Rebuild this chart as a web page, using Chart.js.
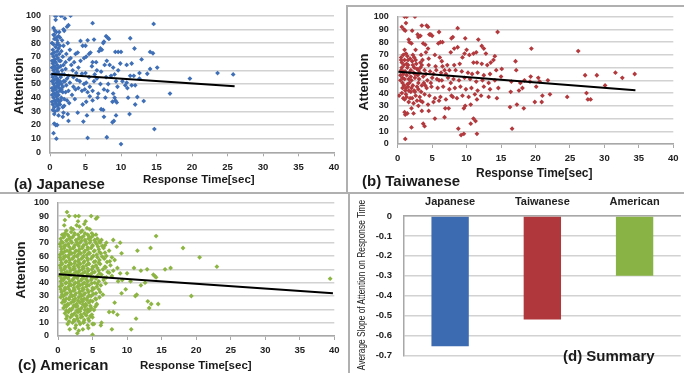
<!DOCTYPE html>
<html><head><meta charset="utf-8">
<script src="https://cdn.jsdelivr.net/npm/chart.js@4/dist/chart.umd.min.js"></script>
<style>
html,body{margin:0;padding:0;background:#fff;}
#wrap{position:relative;width:684px;height:373px;overflow:hidden;font-family:"Liberation Sans",Arial,sans-serif;color:#1a1a1a;}
canvas{position:absolute;left:0;top:0;pointer-events:none;}
.t{position:absolute;white-space:nowrap;line-height:1;font-weight:bold;}
.rot{transform:translate(-50%,-50%) rotate(-90deg);}
.lc{transform:translateY(-50%);}
.ln{position:absolute;background:#b0b0b0;}
</style></head><body><div id="wrap">
<div class="ln" style="left:347px;top:5px;width:337px;height:2px"></div>
<div class="ln" style="left:346px;top:5px;width:2px;height:188px"></div>
<div class="ln" style="left:0;top:192px;width:684px;height:2px"></div>
<div class="ln" style="left:348px;top:192px;width:2px;height:181px"></div>
<canvas id="ca" width="684" height="373"></canvas>
<canvas id="cb" width="684" height="373"></canvas>
<canvas id="cc" width="684" height="373"></canvas>
<canvas id="cd" width="684" height="373"></canvas>
<div class="t rot" style="left:18px;top:86px;font-size:13px">Attention</div>
<div class="t rot" style="left:363px;top:82px;font-size:13px">Attention</div>
<div class="t rot" style="left:20px;top:270px;font-size:13px">Attention</div>
<div class="t lc" style="left:14px;top:183px;font-size:15px">(a) Japanese</div>
<div class="t lc" style="left:143px;top:180px;font-size:11.5px">Response Time[sec]</div>
<div class="t lc" style="left:362px;top:180px;font-size:15px">(b) Taiwanese</div>
<div class="t lc" style="left:476px;top:173px;font-size:12px">Response Time[sec]</div>
<div class="t lc" style="left:18px;top:364px;font-size:15px">(c) American</div>
<div class="t lc" style="left:140px;top:366px;font-size:11.5px">Response Time[sec]</div>
<div id="dTitle" class="t rot" style="left:362px;top:285px;font-size:10px;font-weight:normal">Average Slope of Attention on Response Time</div>
<div class="t lc" style="left:563px;top:355px;font-size:15px">(d) Summary</div>
</div>
<script>
// ---------- data ----------
const japanesePoints = [
[0.7,100],[0.9,100],[1.5,100],[1.7,100],[2.9,100],[0.8,97],[2.1,98],[6.0,94.5],[14.6,94],[2.6,93],[2.4,92],[0.5,91],[0.7,89],[0.9,88],[2.0,89],[1.9,90],
[0.6,86],[1.2,85],[1.4,84],[1.0,82],[7.9,85],[8.1,84],[8.3,83],[11.3,83.5],[6.2,82.5],[4.3,81.5],[5.3,82],[7.6,81],[7.5,80],[0.3,80],[0.5,79],[2.5,80],[1.9,78],[5.0,78],[4.6,78],
[11.9,76],[7.1,76],[7.3,75],[6.9,74],[9.2,73.5],[9.6,73.5],[10.0,73.5],[14.1,73.5],[14.5,72.5],[3.9,73],[5.7,73],[5.5,72],[2.7,68],[2.9,69],[5.1,70],[4.8,69],[12.9,68],[8.0,67],
[6.0,66],[6.5,66],[7.7,64],[8.4,64],[9.9,65],[10.8,64],[11.5,65],[4.3,67],[3.4,66],[2.2,66],[14.1,61],[15.1,62],[13.7,57.5],[11.3,56],[11.8,56],[12.6,58],[8.9,62],[9.6,60],
[5.9,63],[6.6,60],[4.5,57.5],[5.0,58],[3.7,58],[3.2,60],[2.6,56],[7.2,59],[7.9,55],[8.6,56],[9.1,57],[9.3,52],[10.2,52],[10.8,51],[12.6,54],[11.5,49],[12.0,49],[10.6,49],
[6.6,54],[6.2,52],[5.5,55],[5.1,51],[4.8,50],[3.8,53],[2.8,51],[2.3,49],[1.8,48],[4.0,47],[4.5,45],[4.9,46],[5.3,44],[6.0,45],[6.8,43],[7.6,46],[8.1,45],[8.9,43],[8.2,50],
[9.5,48],[10.9,47],[16.9,43],[19.7,54],[23.6,58],[25.8,57],[12.3,40.5],[12.0,35],[13.2,37.5],[11.0,40],[9.1,40],[9.2,38],[9.4,36.5],[8.8,37],[7.8,40],[6.7,40],[6.0,38],
[5.6,41],[5.1,37],[4.6,35],[3.5,39],[3.1,42],[2.7,36],[2.4,38],[2.0,34],[1.9,29],[2.5,28],[3.9,29],[5.2,27],[6.0,31],[7.2,31.5],[7.5,31],[7.6,26],[9.3,27],[9.0,23],[8.8,22],
[11.2,28],[4.7,22.5],[2.6,23],[1.8,26],[1.2,27],[1.0,20],[0.6,21],[0.8,20],[14.7,17],[0.5,14],[0.9,10],[5.3,10.5],[8.0,11],[10.0,6],
[0.4,75],[0.6,73],[0.8,77],[1.0,74],[1.2,76],[1.4,78],[0.5,70],[0.7,68],[0.9,71],[1.1,69],[1.3,72],[1.6,74],[0.4,65],[0.6,63],[0.8,66],[1.0,64],[1.2,62],[1.5,67],
[0.5,60],[0.7,58],[0.9,61],[1.1,59],[1.3,57],[1.7,60],[0.4,55],[0.6,53],[0.8,56],[1.0,54],[1.2,52],[1.5,55],[0.5,50],[0.7,48],[0.9,51],[1.1,49],[1.3,47],[1.6,50],
[0.4,45],[0.6,43],[0.8,46],[1.0,44],[1.2,42],[1.4,45],[0.5,40],[0.7,38],[0.9,41],[1.1,39],[1.3,37],[1.6,40],[0.4,35],[0.6,33],[0.8,36],[1.0,34],[1.2,32],[1.4,35],
[0.7,30],[1.1,31],[0.3,62],[0.3,52],[0.3,42],[1.8,70],[1.9,64],[2.0,57],[1.8,44],[2.1,52],[2.2,61],[2.3,72],[1.7,82],[1.3,88],[0.6,83],[1.0,79],[2.4,54],[2.6,45],[3.0,64],[3.3,48],
[0.3,72],[0.5,67],[0.7,62],[0.9,57],[1.1,53],[1.3,50],[0.6,46],[0.8,42],[1.0,38],[1.2,35],[0.4,31],[0.6,28],[1.5,63],[1.7,57],[1.6,46],[1.5,38],[1.9,52],[2.0,39],[0.5,86],[0.9,84],
[1.1,80],[1.3,67],[1.4,52],[1.0,48],[0.3,47],[0.3,57],[0.3,67],[0.3,37],[1.8,33],[2.2,44],[3.6,46],[4.2,52],[5.6,48],[6.3,57],[7.1,50],[3.3,55],[4.0,62],[2.8,75],[3.6,72]
];
const japaneseTrend = [[0.2,57.3],[26.0,48.3]];

const taiwanesePoints = [
[1.0,100],[1.3,100],[2.5,100],[1.2,95],[0.6,92],[0.9,90],[1.1,89],[2.1,89],[3.5,93],[4.2,93],[4.4,92],[8.7,91],[14.5,88],[2.9,86],[3.0,84],[3.3,85],[4.6,86],[4.8,86],[5.0,85],[6.0,88],
[1.6,82],[1.7,80],[2.0,79],[3.7,79],[4.0,78],[4.4,75],[5.9,79],[6.2,80],[6.5,80],[7.8,83],[8.0,84],[9.8,83],[11.7,82],[2.6,74],[1.0,74],[0.8,70],[1.2,71],[3.4,70],[4.1,72],
[5.4,70],[6.1,68],[6.4,65],[7.7,72],[8.2,75],[8.7,76],[9.4,68],[9.7,71],[10.0,74],[10.4,70],[11.0,71],[11.4,72],[12.2,77],[12.5,75],[12.8,71],[19.4,75],[26.2,73],[13.9,66],[14.1,69],
[17.1,65],[11.0,64],[11.5,64],[12.2,63],[13.0,62],[13.5,64],[9.0,63],[8.2,62],[7.2,62],[6.5,61],[5.5,61],[4.5,62],[3.3,64],[2.7,63],[2.1,65],[1.8,67],[1.0,66],[0.6,64],[0.9,62],
[1.4,60],[2.4,60],[3.0,58],[3.9,58],[4.7,57],[5.6,58],[6.3,56],[7.0,55],[7.5,58],[8.4,58],[9.3,57],[10.2,56],[10.8,55],[11.6,56],[12.5,54],[13.4,55],[14.3,58],[15.1,59],[17.2,58],
[19.3,53],[20.4,52],[20.6,49],[21.8,50],[27.2,54],[28.9,54],[31.6,56],[32.6,52],[34.4,55],[0.8,55],[1.3,54],[1.9,53],[2.5,52],[3.1,51],[3.7,53],[4.3,50],[5.0,52],[5.7,51],[6.4,50],
[7.3,52],[8.1,51],[8.9,50],[9.7,52],[10.5,51],[11.4,49],[12.3,50],[13.2,48],[14.1,50],[15.0,53],[16.5,49],[17.8,48],[18.4,50],[19.2,49],[0.7,48],[1.4,47],[2.2,46],[2.8,45],[3.5,46],
[4.2,44],[4.9,45],[5.8,44],[6.6,45],[7.5,43],[8.3,44],[9.1,45],[9.9,43],[10.7,44],[11.6,42],[12.5,45],[13.4,43],[14.6,44],[16.4,41],[17.6,42],[18.1,44],[20.1,45],[22.1,39],[21.0,38],
[24.6,37],[27.4,40],[27.6,35],[28.0,35],[30.1,46],[0.6,40],[1.2,39],[1.9,41],[2.6,38],[3.2,37],[3.9,39],[4.6,38],[5.4,36],[6.2,37],[7.0,35],[7.8,38],[8.6,36],[9.4,38],[10.3,37],
[11.2,39],[12.1,38],[13.2,37],[14.4,36],[0.2,38],[1.0,35],[1.6,33],[2.3,32],[3.0,30],[3.6,33],[4.4,31],[5.2,33],[6.0,34],[6.9,28],[7.4,28],[8.0,37],[9.6,28],[9.8,30],[10.6,31],
[11.5,35],[16.3,29],[17.3,31],[18.3,28],[19.9,33],[20.9,33],[1.0,25],[1.1,23],[1.4,24],[2.0,28],[2.3,24],[3.5,26],[4.5,26],[5.4,20],[6.8,21],[11.0,20],[11.3,18],[10.6,16],
[2.0,13],[3.7,16],[3.9,14],[8.8,12],[9.2,7],[9.6,8],[11.5,8],[16.6,12],[1.1,4],
[0.5,58],[0.7,52],[1.1,57],[1.5,62],[1.7,56],[2.0,50],[2.3,56],[2.6,66],[2.9,54],[3.3,60],[1.2,44],[1.6,42],[2.4,42],[0.9,46],[3.0,48],[0.5,68],[1.4,69],[2.2,70],[0.4,50],[1.8,36],
[0.6,60],[0.9,57],[1.3,63],[1.6,51],[1.9,58],[2.2,62],[2.5,55],[2.8,59],[3.2,56],[3.5,62],[3.8,48],[4.1,55],[0.7,44],[1.1,42],[1.5,45],[2.0,44],[2.5,41],[3.0,43],[3.4,41],[4.0,46],
[0.8,36],[1.3,37],[2.1,36],[2.8,34],[3.3,34],[4.8,48],[5.2,55],[6.0,50],[6.8,58],[7.7,48],[0.5,66],[1.5,66],[2.4,68],[3.6,66],[4.5,67],[1.0,51],[1.7,48],[0.4,54]
];
const taiwaneseTrend = [[0.1,56.8],[34.5,42.2]];

const americanPoints = [
[1.3,93],[1.6,90],[2.5,90],[3.0,90],[4.8,90],[5.5,88],[5.7,89],[1.0,87],[0.9,83],[14.2,75],[13.4,66],[18.1,66],[20.5,59],[23.0,52],[16.3,51],[15.5,50],[39.4,43],[19.3,30],
[14.5,24],[13.5,24],[13.0,26],[13.2,21],[11.3,13],[10.6,5],[7.8,5],[5.0,1],[2.8,2],[11.5,64],[9.0,70],[8.0,72],[9.2,62],[8.5,67],[7.0,70],[12.0,49],[12.9,50],[13.8,46],
[14.0,45],[14.2,44],[11.0,51],[10.0,47],[10.5,41],[11.2,30],[11.4,31],[12.6,40],[12.0,38],[9.3,42],[9.8,35],[9.2,32],[8.7,41],[8.2,25],[7.4,18],[8.0,18],[8.6,16],[6.3,10],[6.2,8],[5.2,9],
[2.2,80],[3.1,82],[3.8,84],[4.2,81],[2.7,83],[1.9,81],[3.5,79],[4.6,80],[1.2,79],[4.0,86],[2.9,86],
[0.6,76],[1.0,77],[1.4,76],[1.9,78],[2.4,77],[2.9,76],[3.3,78],[3.9,77],[4.3,76],[4.9,77],[5.5,76],
[0.4,73],[0.8,74],[1.3,72],[1.7,73],[2.1,74],[2.6,72],[3.0,73],[3.5,74],[3.9,72],[4.4,73],[4.8,74],[5.3,72],[5.7,73],[6.3,72],
[0.3,69],[0.7,70],[1.1,68],[1.5,69],[2.0,70],[2.4,68],[2.8,69],[3.2,70],[3.7,68],[4.1,69],[4.6,70],[5.0,68],[5.6,69],[6.1,70],[6.8,68],
[0.5,65],[0.9,66],[1.3,64],[1.8,65],[2.2,66],[2.6,64],[3.1,65],[3.5,66],[3.9,64],[4.3,65],[4.8,66],[5.3,64],[5.9,65],[6.6,66],[7.4,64],
[0.3,61],[0.7,62],[1.1,60],[1.6,61],[2.0,62],[2.4,60],[2.9,61],[3.3,62],[3.7,60],[4.2,61],[4.6,62],[5.1,60],[5.6,61],[6.2,62],[7.0,60],
[0.4,57],[0.8,58],[1.2,56],[1.7,57],[2.1,58],[2.5,56],[3.0,57],[3.4,58],[3.8,56],[4.3,57],[4.8,58],[5.4,56],[6.0,57],[6.7,58],[7.5,56],[8.2,57],
[0.3,53],[0.6,54],[1.0,52],[1.5,53],[1.9,54],[2.3,52],[2.8,53],[3.2,54],[3.6,52],[4.1,53],[4.5,54],[5.0,52],[5.5,53],[6.1,54],[6.8,52],[7.6,53],
[0.5,49],[0.9,50],[1.3,48],[1.8,49],[2.2,50],[2.6,48],[3.1,49],[3.5,50],[3.9,48],[4.4,49],[4.9,50],[5.3,48],[5.9,49],[6.5,50],[7.2,48],[8.0,49],
[0.3,45],[0.7,46],[1.1,44],[1.6,45],[2.0,46],[2.4,44],[2.9,45],[3.3,46],[3.7,44],[4.2,45],[4.7,46],[5.1,44],[5.7,45],[6.3,46],[7.0,44],[7.8,45],
[0.4,41],[0.8,42],[1.2,40],[1.7,41],[2.1,42],[2.5,40],[3.0,41],[3.4,42],[3.8,40],[4.3,41],[4.8,42],[5.3,40],[5.9,41],[6.6,42],
[0.3,37],[0.6,38],[1.0,36],[1.5,37],[1.9,38],[2.3,36],[2.8,37],[3.2,38],[3.6,36],[4.1,37],[4.5,38],[5.0,36],[5.6,37],[6.2,38],
[0.5,33],[0.9,34],[1.3,32],[1.8,33],[2.2,34],[2.6,32],[3.1,33],[3.5,34],[3.9,32],[4.4,33],[4.9,34],[5.5,32],[6.1,33],
[0.4,29],[0.8,30],[1.2,28],[1.7,29],[2.1,30],[2.5,28],[3.0,29],[3.4,30],[3.8,28],[4.3,29],[4.8,30],[5.4,28],[6.0,29],
[0.6,25],[1.0,26],[1.4,24],[1.9,25],[2.3,26],[2.7,24],[3.2,25],[3.6,26],[4.0,24],[4.5,25],[5.0,26],[5.6,24],
[0.8,21],[1.2,22],[1.7,20],[2.1,21],[2.6,22],[3.0,20],[3.4,21],[3.9,22],[4.3,20],[4.8,21],[5.4,22],
[1.0,17],[1.5,18],[2.0,16],[2.4,17],[2.9,18],[3.3,16],[3.8,17],[4.3,18],[4.9,16],
[1.2,13],[1.8,14],[2.3,12],[2.8,13],[3.3,14],[3.8,12],[4.4,13],[5.0,14],
[1.4,9],[2.1,10],[2.6,8],[3.2,9],[3.7,10],[4.3,8],[5.0,9],
[1.7,5],[2.5,6],[3.0,4],[3.6,5],[4.4,6],
[0.9,75],[1.6,74.5],[2.3,75.5],[3.1,74],[3.7,75],[4.5,74.5],[5.1,75.5],
[0.5,71],[1.2,71.5],[1.9,71],[2.7,70.5],[3.4,71.5],[4.0,71],[4.7,71.5],[5.4,70.5],[6.0,71],
[0.4,67],[0.9,67.5],[1.6,67],[2.3,66.5],[3.0,67.5],[3.6,67],[4.3,66.5],[5.0,67.5],[5.8,67],[6.4,67.5],
[0.5,63],[1.0,63.5],[1.7,63],[2.4,62.5],[3.0,63.5],[3.8,63],[4.5,62.5],[5.2,63.5],[6.0,63],[6.8,62.5],
[0.3,59],[0.9,59.5],[1.5,59],[2.2,58.5],[2.8,59.5],[3.6,59],[4.2,58.5],[5.0,59.5],[5.7,59],[6.4,59.5],[7.8,59],
[0.5,55],[1.1,55.5],[1.7,55],[2.4,54.5],[3.0,55.5],[3.7,55],[4.4,54.5],[5.2,55.5],[5.9,55],[7.1,55.5],
[0.4,51],[1.1,51.5],[1.7,51],[2.4,50.5],[3.0,51.5],[3.7,51],[4.3,50.5],[5.1,51.5],[5.7,51],[6.9,51.5],[8.6,51],
[0.5,47],[1.0,47.5],[1.7,47],[2.3,46.5],[2.9,47.5],[3.6,47],[4.3,46.5],[5.0,47.5],[6.0,47],[7.4,47.5],[9.0,47],
[0.5,43],[0.9,43.5],[1.5,43],[2.2,42.5],[2.8,43.5],[3.5,43],[4.1,42.5],[4.9,43.5],[5.5,43],[6.7,43.5],
[0.5,39],[1.1,39.5],[1.7,39],[2.3,38.5],[2.9,39.5],[3.6,39],[4.2,38.5],[4.9,39.5],[5.7,39],[6.9,39.5],
[0.4,35],[1.1,35.5],[1.6,35],[2.4,34.5],[3.0,35.5],[3.7,35],[4.3,34.5],[5.2,35.5],[5.9,35],
[0.6,31],[1.1,31.5],[1.9,31],[2.4,30.5],[3.2,31.5],[3.7,31],[4.5,30.5],[5.1,31.5],[6.5,31],
[0.8,27],[1.6,27.5],[2.2,27],[2.9,26.5],[3.4,27.5],[4.2,27],[4.7,26.5],[5.5,27.5],
[1.0,23],[1.5,23.5],[2.3,23],[2.8,22.5],[3.6,23.5],[4.1,23],[4.7,22.5],[5.6,23.5],
[1.2,19],[1.9,19.5],[2.7,19],[3.2,18.5],[3.9,19.5],[4.6,19],[5.2,19.5],
[1.3,15],[2.1,15.5],[2.7,15],[3.5,14.5],[4.1,15.5],[4.7,15],
[1.6,11],[2.4,11.5],[3.0,11],[3.7,10.5],[4.5,11.5]
];
const americanTrend = [[0.1,46.3],[39.8,32.0]];

const summaryLabels = ['Japanese','Taiwanese','American'];
const summarySlopes = [-0.655,-0.52,-0.30];

// ---------- styles ----------
const COL_J = '#3f6fb6', COL_T = '#b2393d', COL_A = '#8db543';
const BAR_COLORS = ['#3d6bb1','#b0383c','#8ab346'];
const TICK_COL = '#222';
const GRID_COL = '#d2d2d2';
const AXIS_COL = '#a8a8a8';
Chart.defaults.font.family = "'Liberation Sans', Arial, sans-serif";

function scatterChart(id, pts, trend, color, a) {
  const Wy = 40, Hx = 24;
  new Chart(document.getElementById(id), {
    type: 'scatter',
    data: { datasets: [
      { type: 'line', data: trend.map(p => ({x: p[0], y: p[1]})), borderColor: '#000', borderWidth: 2, pointRadius: 0, fill: false, order: 0 },
      { data: pts.map(p => ({x: p[0], y: p[1]})), pointStyle: 'rectRot', pointRadius: 2.4, backgroundColor: color, borderWidth: 0, order: 1 }
    ]},
    options: {
      responsive: false, animation: false, events: [],
      plugins: { legend: { display: false }, tooltip: { enabled: false } },
      layout: { padding: { left: a.l - Wy, top: a.t, right: 684 - a.r, bottom: 373 - a.b - Hx } },
      scales: {
        x: { type: 'linear', min: 0, max: 40,
             ticks: { stepSize: 5, autoSkip: false, color: TICK_COL, font: { size: 9.5, weight: 'bold' }, padding: 5, maxRotation: 0 },
             grid: { drawOnChartArea: false, drawTicks: true, tickLength: 4, color: AXIS_COL },
             border: { color: AXIS_COL, width: 1.5 },
             afterFit: s => { s.height = Hx; } },
        y: { min: 0, max: 100,
             ticks: { stepSize: 10, autoSkip: false, color: TICK_COL, font: { size: 9, weight: 'bold' }, padding: 9 },
             grid: { color: GRID_COL, lineWidth: 1.5, drawTicks: false },
             border: { color: AXIS_COL, width: 1.5 },
             afterFit: s => { s.width = Wy; } }
      }
    }
  });
}

scatterChart('ca', japanesePoints, japaneseTrend, COL_J, {l: 50, r: 334, t: 15.7, b: 152.3});
scatterChart('cb', taiwanesePoints, taiwaneseTrend, COL_T, {l: 397.7, r: 673.3, t: 16.7, b: 144});
scatterChart('cc', americanPoints, americanTrend, COL_A, {l: 58, r: 334.3, t: 202.7, b: 336});

(function () {
  const Wy = 40, Hx = 20;
  const a = {l: 404, r: 680.7, t: 216, b: 366};
  new Chart(document.getElementById('cd'), {
    type: 'bar',
    data: { labels: summaryLabels, datasets: [{ data: summarySlopes, backgroundColor: BAR_COLORS, borderWidth: 0, barPercentage: 0.405, categoryPercentage: 1 }] },
    options: {
      responsive: false, animation: false, events: [],
      plugins: { legend: { display: false }, tooltip: { enabled: false } },
      layout: { padding: { left: a.l - Wy, top: a.t - Hx, right: 684 - a.r, bottom: 373 - a.b } },
      scales: {
        x: { position: 'top',
             ticks: { color: TICK_COL, font: { size: 11, weight: 'bold' }, padding: 7 },
             grid: { display: false, drawTicks: false },
             border: { color: AXIS_COL, width: 1.5 },
             afterFit: s => { s.height = Hx; } },
        y: { min: -0.7, max: 0,
             ticks: { stepSize: 0.1, autoSkip: false, color: TICK_COL, font: { size: 9.5, weight: 'bold' }, padding: 12,
                      callback: v => (Math.abs(v) < 1e-9 ? '0' : v.toFixed(1)) },
             grid: { color: GRID_COL, lineWidth: 1.5, drawTicks: false },
             border: { color: AXIS_COL, width: 1.5 },
             afterFit: s => { s.width = Wy; } }
      }
    }
  });
})();

// condense the summary axis title to the reference length
(function () {
  const el = document.getElementById('dTitle');
  const w = el.offsetWidth;
  if (w > 0) el.style.transform = 'translate(-50%,-50%) rotate(-90deg) scaleX(' + (170 / w) + ')';
})();
</script>
</body></html>
